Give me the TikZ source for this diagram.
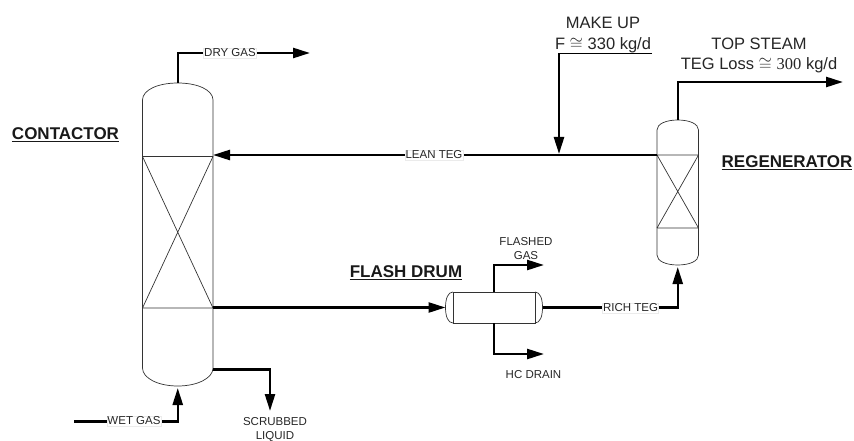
\documentclass[tikz,border=0pt]{standalone}
\usepackage{amsmath}
\usepackage{fontspec}
\setmainfont{Liberation Sans}
\newfontfamily\numfont{Liberation Serif}
\usetikzlibrary{arrows.meta, positioning}

\begin{document}
\begin{tikzpicture}[x=1pt, y=-1pt, >={Triangle[length=17pt, width=10pt]},
    pipe/.style={line width=2.5pt, line join=miter}, wall/.style={line width=0.7pt, black!80},
    shell/.style={inner sep=0pt, outer sep=0pt},
    tag/.style={fill=white, draw=black!8, line width=0.3pt, inner sep=0.6pt, font=\fontsize{11.5}{13}\selectfont, text=black!85},
    note/.style={align=center, inner sep=0pt, font=\fontsize{11.5}{14.5}\selectfont, text=black!85},
    stream/.style={align=center, fill=white, inner sep=0.5pt, font=\fontsize{16.5}{20.5}\selectfont, text=black!85},
    title/.style={inner sep=0pt, font=\fontsize{17}{20}\selectfont\bfseries, text=black!90}]

  \useasboundingbox (0,0) rectangle (854,441);

  % vessels
  \node[shell, minimum width=70.5pt, minimum height=268pt] (contactor) at (177.75,234) {};
  \node[shell, minimum width=41.5pt, minimum height=125pt] (regen) at (677.75,192.5) {};
  \node[draw, wall, shell, minimum width=82pt, minimum height=31pt] (drum) at (494,307.5) {};

  \coordinate (contactor top) at (177.75,83);
  \coordinate (contactor bot) at (177.75,386);
  \coordinate (regen top) at (677.75,120);
  \coordinate (regen bot) at (677.75,265);
  \coordinate (drum left) at (445.5,307.5);
  \coordinate (drum right) at (542.5,307.5);

  % packed sections
  \coordinate (cpack nw) at (142.5,156.5);
  \coordinate (cpack ne) at (213,156.5);
  \coordinate (cpack sw) at (142.5,308);
  \coordinate (cpack se) at (213,308);
  \coordinate (rpack nw) at (657,155);
  \coordinate (rpack ne) at (698.5,155);
  \coordinate (rpack sw) at (657,228);
  \coordinate (rpack se) at (698.5,228);

  \draw[wall] (contactor.north west) .. controls +(0,-10) and +(-20,0) .. (contactor top)
    .. controls +(20,0) and +(0,-10) .. (contactor.north east) -- (contactor.south east)
    .. controls +(0,10) and +(20,0) .. (contactor bot)
    .. controls +(-20,0) and +(0,10) .. (contactor.south west) -- cycle;
  \draw[wall] (cpack nw) -- (cpack ne) (cpack sw) -- (cpack se) (cpack nw) -- (cpack se) (cpack ne) -- (cpack sw);

  \draw[wall] (regen.north west) .. controls +(0,-6) and +(-12,0) .. (regen top)
    .. controls +(12,0) and +(0,-6) .. (regen.north east) -- (regen.south east)
    .. controls +(0,6) and +(12,0) .. (regen bot)
    .. controls +(-12,0) and +(0,6) .. (regen.south west) -- cycle;
  \draw[wall] (rpack nw) -- (rpack ne) (rpack sw) -- (rpack se) (rpack nw) -- (rpack se) (rpack ne) -- (rpack sw);

  \draw[wall] (drum.north west) .. controls +(-5,0) and +(0,-9) .. (drum left)
    .. controls +(0,9) and +(-5,0) .. (drum.south west);
  \draw[wall] (drum.north east) .. controls +(5,0) and +(0,-9) .. (drum right)
    .. controls +(0,9) and +(5,0) .. (drum.south east);

  % stream ends
  \coordinate (dry end) at (310,53);
  \coordinate (top end) at (843,82);
  \coordinate (makeup start) at (652,53);
  \coordinate (makeup end) at (559,154);
  \coordinate (lean start) at (657,155);
  \coordinate (lean end) at (213,155);
  \coordinate (rich start) at (213,307.5);
  \coordinate (wet start) at (74,421.5);
  \coordinate (wet end) at (177.75,388);
  \coordinate (scrub start) at (213,369.5);
  \coordinate (scrub end) at (270,411);
  \coordinate (flashed end) at (544,265);
  \coordinate (drain end) at (544,354);
  \coordinate (rich end) at (677.75,267);

  \draw[pipe, ->] (contactor top) |- (dry end);
  \draw[pipe, ->] (regen top) |- (top end);
  \draw[pipe, ->] (makeup start) -| (makeup end);
  \draw[pipe, ->] (lean start) -- (lean end);
  \draw[pipe, ->] (rich start) -- (drum left);
  \draw[pipe, ->] (wet start) -| (wet end);
  \draw[pipe, ->] (scrub start) -| (scrub end);
  \draw[pipe, ->] (drum.north) |- (flashed end);
  \draw[pipe, ->] (drum.south) |- (drain end);
  \draw[pipe, ->] (drum right) -| (rich end);

  % labels
  \node[tag] (dry tag) at (230,53) {DRY GAS};
  \node[tag] (lean tag) at (434,155) {LEAN TEG};
  \node[tag] (rich tag) at (630.5,308) {RICH TEG};
  \node[tag] (wet tag) at (134,421) {WET GAS};
  \node[note] (scrub note) at (275,429.5) {SCRUBBED\\LIQUID};
  \node[note] (flashed note) at (526,248.5) {FLASHED\\GAS};
  \node[note] (drain note) at (533.5,374.5) {HC DRAIN};
  \node[stream] (makeup note) at (603,35) {MAKE UP\\F $\cong$ 330 kg/d};
  \node[stream] (top note) at (759,55.5) {TOP STEAM\\TEG Loss $\cong$ {\numfont 300} kg/d};
  \node[title] (contactor title) at (65.5,135) {\underline{CONTACTOR}};
  \node[title] (regen title) at (787,163) {\underline{REGENERATOR}};
  \node[title] (drum title) at (406,273) {\underline{FLASH DRUM}};

\end{tikzpicture}
\end{document}
